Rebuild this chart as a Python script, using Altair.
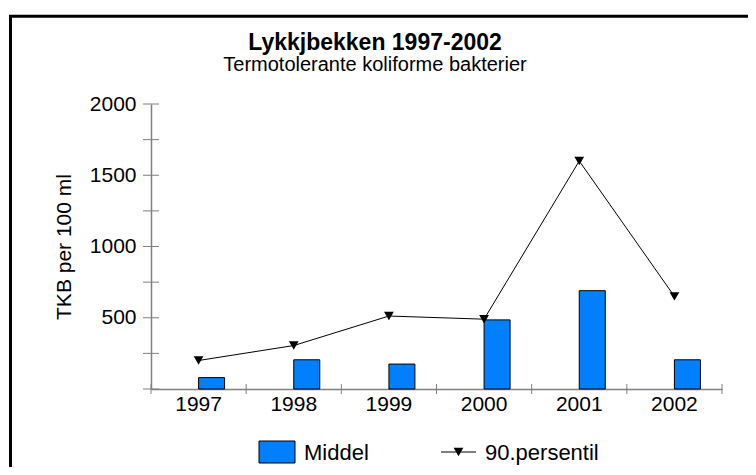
import altair as alt
import pandas as pd

# ---- data ----
years = ["1997", "1998", "1999", "2000", "2001", "2002"]
middel = [80, 205, 175, 485, 690, 205]
persentil90 = [200, 305, 512, 490, 1600, 650]
y_tick_values = [0, 250, 500, 750, 1000, 1250, 1500, 1750, 2000]
y_label_values = [500, 1000, 1500, 2000]
title_text = "Lykkjbekken 1997-2002"
subtitle_text = "Termotolerante koliforme bakterier"
y_title = "TKB per 100 ml"
legend_bar = "Middel"
legend_line = "90.persentil"

W, H = 571, 285
FONT = "Liberation Sans"
BLUE = "#0080ff"
GRAY = "#808080"

df = pd.DataFrame({"year": years, "Middel": middel, "p90": persentil90})
ticks_df = pd.DataFrame({"v": y_tick_values})
one = pd.DataFrame({"a": [0]})

xscale = alt.Scale(domain=years, paddingInner=0, paddingOuter=0)
yscale = alt.Scale(domain=[0, 2000], nice=False, zero=True)

x_axis = alt.Axis(title=None, labelAngle=0, labelFontSize=21, labelColor="black",
                  labelFont=FONT, labelPadding=4, ticks=False, domainColor=GRAY,
                  domainWidth=1.5)
y_axis = alt.Axis(title=y_title, values=y_label_values, format="d", labelFontSize=21,
                  labelColor="black", labelFont=FONT, labelPadding=15, ticks=False,
                  grid=False, domainColor=GRAY, domainWidth=1.5,
                  titleFontSize=21, titleFontWeight="normal", titleFont=FONT,
                  titleColor="black", titleX=-87, titleY=H / 2, titleAngle=270,
                  titleAlign="center", titleBaseline="middle")

frame = alt.Chart(one).mark_rect(fillOpacity=0, stroke="black", strokeWidth=3).encode(
    x=alt.value(-140.5), x2=alt.value(640), y=alt.value(-87.7), y2=alt.value(420))

bars = alt.Chart(df).mark_bar(width=26, xOffset=13, color=BLUE, stroke="black",
                              strokeWidth=1).encode(
    x=alt.X("year:N", scale=xscale, axis=x_axis, sort=years),
    y=alt.Y("Middel:Q", scale=yscale, axis=y_axis))

line = alt.Chart(df).mark_line(color="black", strokeWidth=1).encode(
    x=alt.X("year:N", scale=xscale, sort=years),
    y=alt.Y("p90:Q", scale=yscale))

points = alt.Chart(df).mark_point(shape="triangle-down", filled=True, color="black",
                                  size=95, opacity=1).encode(
    x=alt.X("year:N", scale=xscale, sort=years),
    y=alt.Y("p90:Q", scale=yscale))

yticks = alt.Chart(ticks_df).mark_rule(color=GRAY, strokeWidth=1).encode(
    y=alt.Y("v:Q", scale=yscale), x=alt.value(-8), x2=alt.value(8))

xticks = alt.Chart(df).mark_rule(color=GRAY, strokeWidth=1).encode(
    x=alt.X("year:N", scale=xscale, sort=years, bandPosition=0),
    y=alt.value(H - 5), y2=alt.value(H + 5))

xtick_end = alt.Chart(df.tail(1)).mark_rule(color=GRAY, strokeWidth=1).encode(
    x=alt.X("year:N", scale=xscale, sort=years, bandPosition=1),
    y=alt.value(H - 5), y2=alt.value(H + 5))

# legend
leg_rect = alt.Chart(one).mark_rect(color=BLUE, stroke="black", strokeWidth=1).encode(
    x=alt.value(108), x2=alt.value(144), y=alt.value(337), y2=alt.value(359))
leg_text1 = alt.Chart(one).mark_text(text=legend_bar, font=FONT, fontSize=22,
                                     align="left", baseline="alphabetic",
                                     color="black").encode(
    x=alt.value(153), y=alt.value(356))
leg_line = alt.Chart(one).mark_rule(color="black", strokeWidth=1).encode(
    x=alt.value(290), x2=alt.value(325), y=alt.value(348))
leg_pt = alt.Chart(one).mark_point(shape="triangle-down", filled=True, color="black",
                                   size=95, opacity=1).encode(
    x=alt.value(307.5), y=alt.value(348))
leg_text2 = alt.Chart(one).mark_text(text=legend_line, font=FONT, fontSize=22,
                                     align="left", baseline="alphabetic",
                                     color="black").encode(
    x=alt.value(334), y=alt.value(356))

# titles
t1 = alt.Chart(one).mark_text(text=title_text, font=FONT, fontSize=23,
                              fontWeight="bold", align="center",
                              baseline="alphabetic", color="black").encode(
    x=alt.value(224), y=alt.value(-54))
t2 = alt.Chart(one).mark_text(text=subtitle_text, font=FONT, fontSize=20,
                              align="center", baseline="alphabetic",
                              color="black").encode(
    x=alt.value(224), y=alt.value(-33))

chart = alt.layer(
    frame, bars, line, points, yticks, xticks, xtick_end,
    leg_rect, leg_text1, leg_line, leg_pt, leg_text2, t1, t2
).properties(
    width=W, height=H,
    autosize=alt.AutoSizeParams(type="none"),
    padding={"left": 143, "top": 96, "right": 26, "bottom": 78},
    background="white",
).configure_view(strokeWidth=0)

chart.save("out.html", embed_options={"renderer": "svg", "actions": False})
